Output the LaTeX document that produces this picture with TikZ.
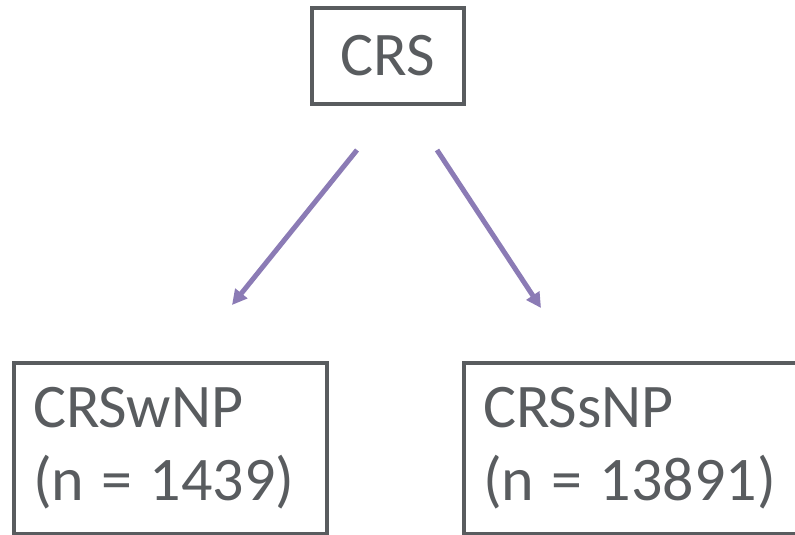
\documentclass[tikz,border=0pt]{standalone}
\usepackage{fontspec}
\setmainfont{Carlito}
\usetikzlibrary{arrows.meta,positioning}
\definecolor{boxgray}{HTML}{595C5F}
\definecolor{arrowpurple}{HTML}{8B7BB5}
\newcommand\boxfont{\fontsize{62}{73}\selectfont}

\begin{document}
\begin{tikzpicture}[
  x=1pt, y=-1pt,
  every node/.style={font=\boxfont, text=boxgray},
  box/.style={rectangle, draw=boxgray, line width=4pt, inner sep=0pt},
  grp/.style={box, align=left, inner xsep=19pt, anchor=north west},
  ar/.style={-{Triangle[length=15pt,width=15pt]}, draw=arrowpurple, line width=5pt}
]
  \useasboundingbox (0,0) rectangle (795,535);
  \node[box, minimum width=152pt, minimum height=96pt] (crs) at (388,56) {CRS};
  \node[grp, minimum width=313pt, minimum height=171pt, text width=275pt] (wnp) at (12,361) {CRSwNP\\(n\hspace{0.28em}=\hspace{0.28em}1439)};
  \node[grp, minimum width=345pt, minimum height=171pt, text width=307pt] (snp) at (462,361) {CRSsNP\\(n\hspace{0.28em}=\hspace{0.28em}13891)};
  \coordinate (l1) at (357,150);
  \coordinate (l2) at (232,305);
  \coordinate (r1) at (437,150);
  \coordinate (r2) at (541,308);
  \draw[ar] (l1) -- (l2);
  \draw[ar] (r1) -- (r2);
\end{tikzpicture}
\end{document}
